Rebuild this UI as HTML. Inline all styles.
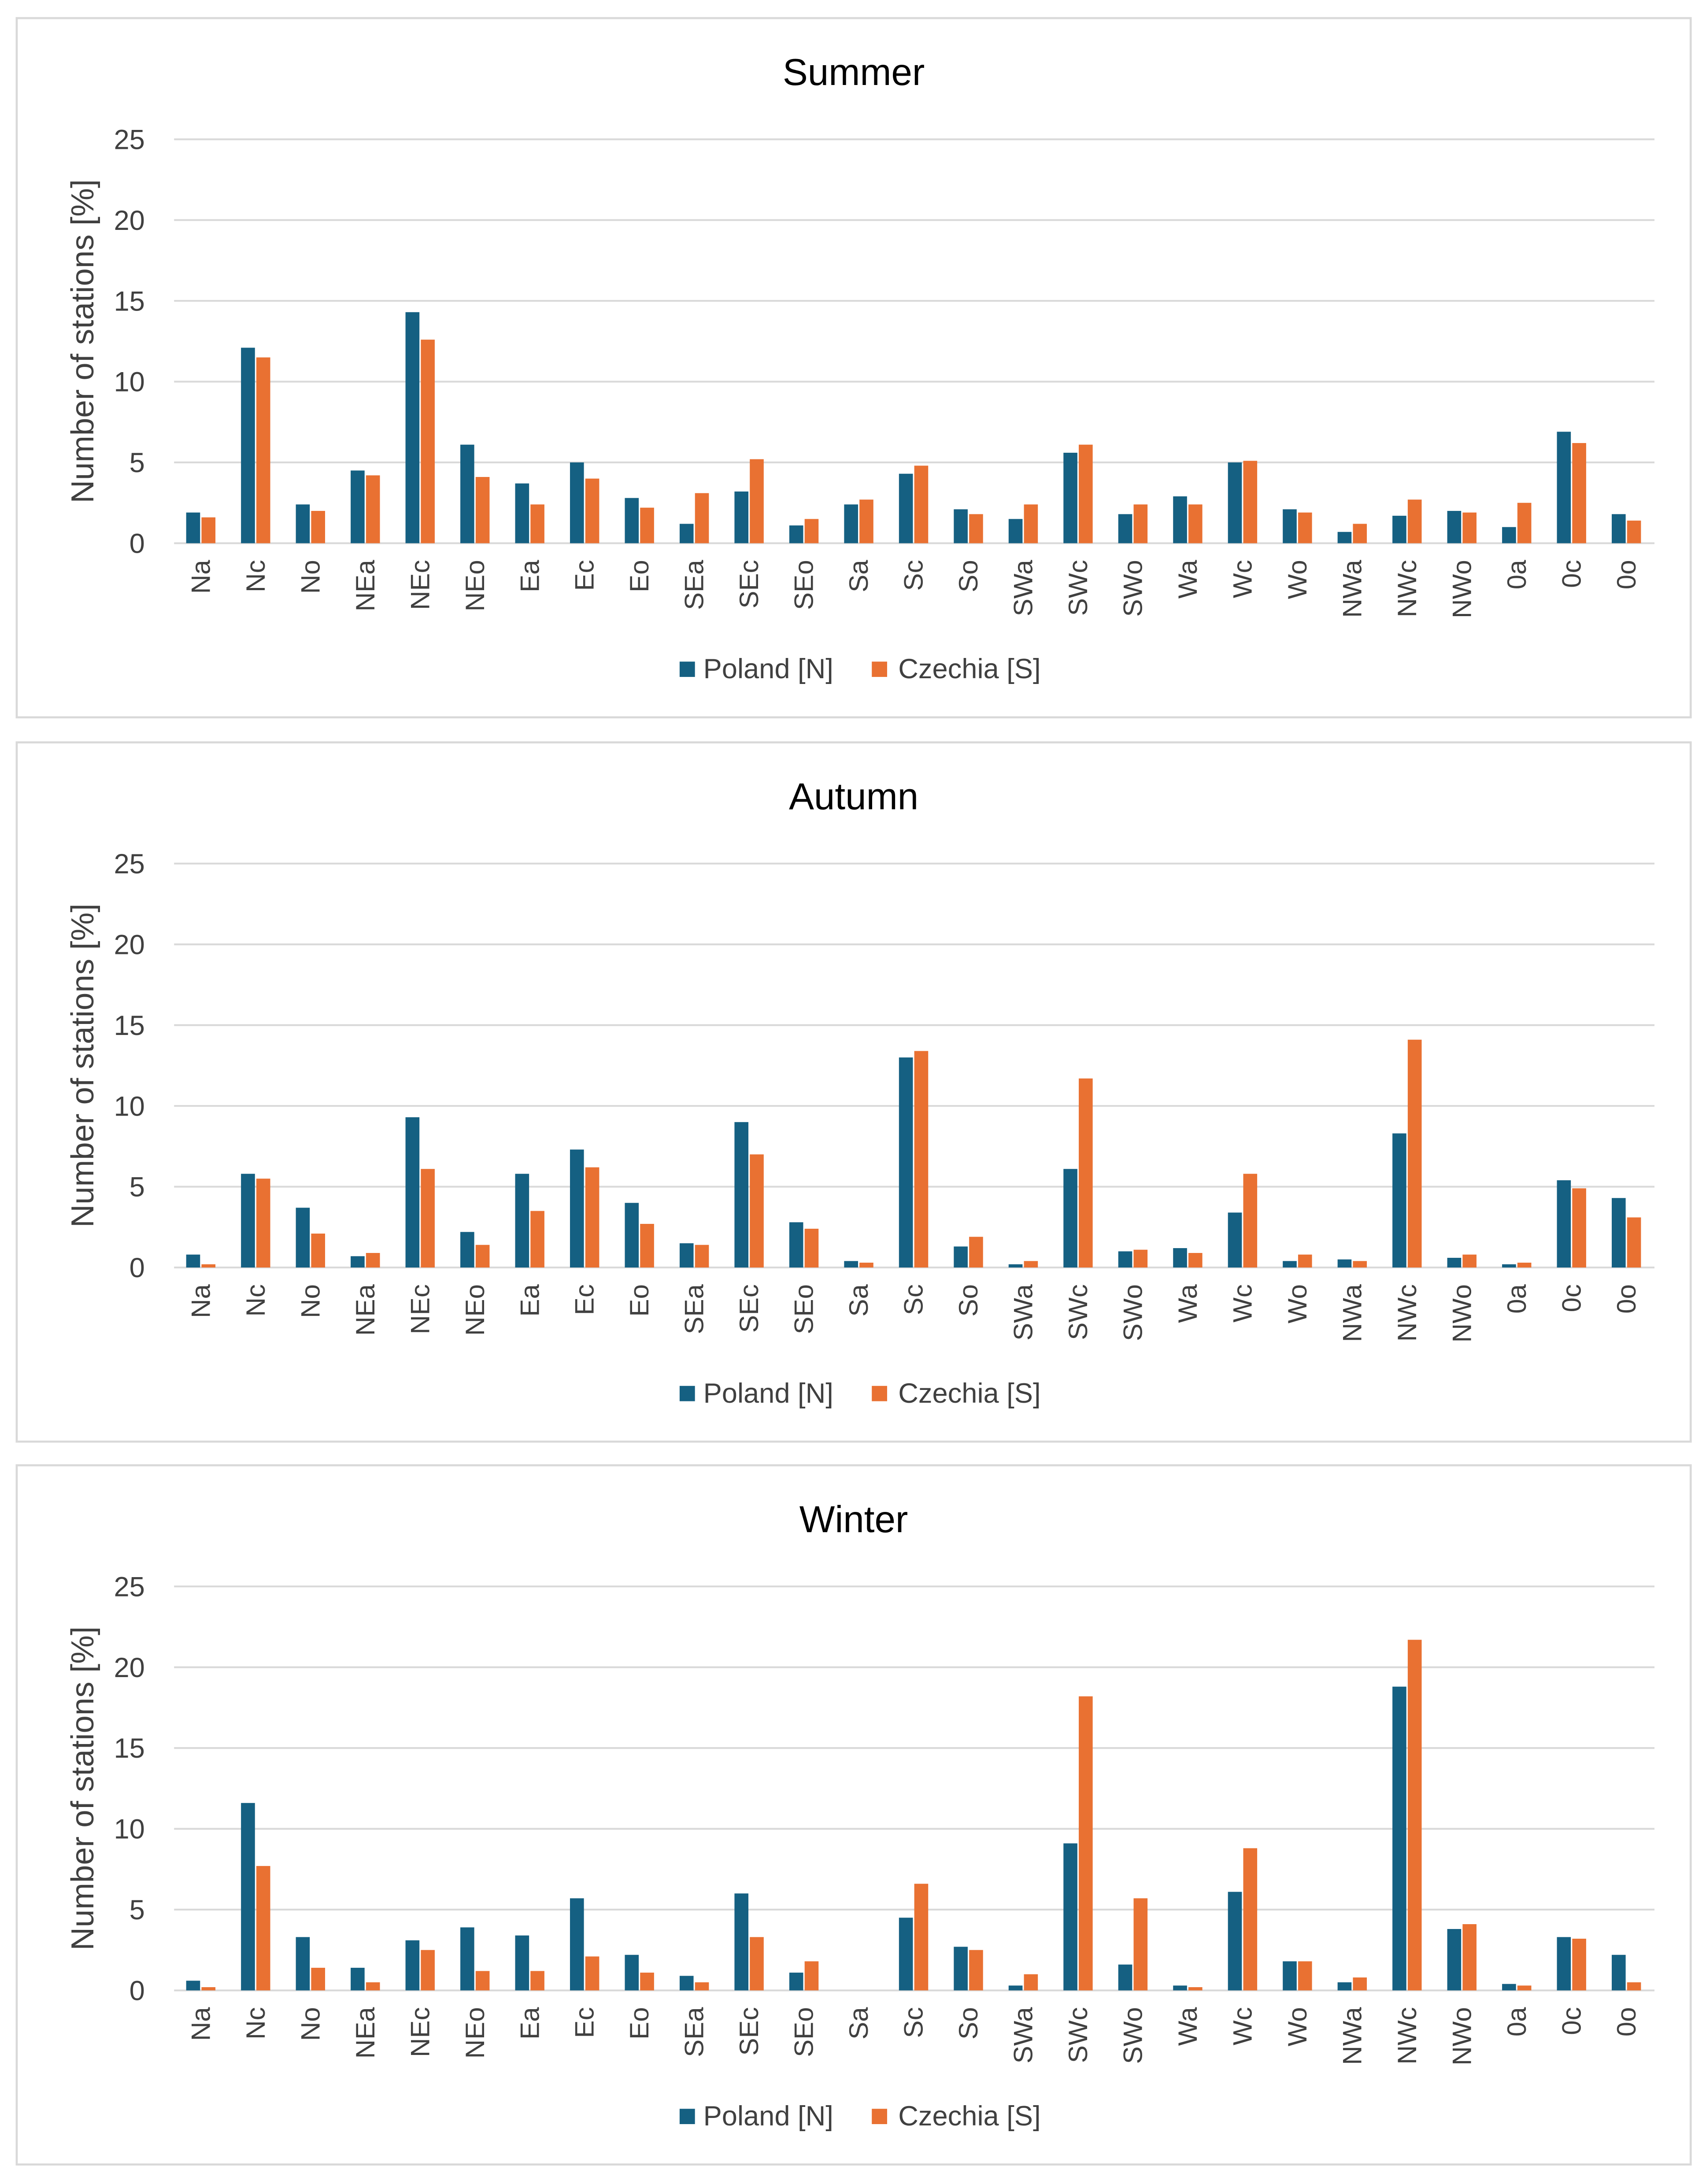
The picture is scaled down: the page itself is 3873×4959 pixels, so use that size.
<!DOCTYPE html>
<html><head><meta charset="utf-8"><style>
html,body{margin:0;padding:0;background:#fff}
svg{display:block}
text{font-family:"Liberation Sans",sans-serif}
</style></head><body>
<svg id="chart" width="3873" height="4959" viewBox="0 0 1225 1568" preserveAspectRatio="none" xmlns="http://www.w3.org/2000/svg"></svg>
<script>
const categories=["Na","Nc","No","NEa","NEc","NEo","Ea","Ec","Eo","SEa","SEc","SEo","Sa","Sc","So","SWa","SWc","SWo","Wa","Wc","Wo","NWa","NWc","NWo","0a","0c","0o"];
const seasonNames=["Summer","Autumn","Winter"];
const tickLabels=[0,5,10,15,20,25];
const summerPoland=[1.9,12.1,2.4,4.5,14.3,6.1,3.7,5.0,2.8,1.2,3.2,1.1,2.4,4.3,2.1,1.5,5.6,1.8,2.9,5.0,2.1,0.7,1.7,2.0,1.0,6.9,1.8];
const summerCzechia=[1.6,11.5,2.0,4.2,12.6,4.1,2.4,4.0,2.2,3.1,5.2,1.5,2.7,4.8,1.8,2.4,6.1,2.4,2.4,5.1,1.9,1.2,2.7,1.9,2.5,6.2,1.4];
const autumnPoland=[0.8,5.8,3.7,0.7,9.3,2.2,5.8,7.3,4.0,1.5,9.0,2.8,0.4,13.0,1.3,0.2,6.1,1.0,1.2,3.4,0.4,0.5,8.3,0.6,0.2,5.4,4.3];
const autumnCzechia=[0.2,5.5,2.1,0.9,6.1,1.4,3.5,6.2,2.7,1.4,7.0,2.4,0.3,13.4,1.9,0.4,11.7,1.1,0.9,5.8,0.8,0.4,14.1,0.8,0.3,4.9,3.1];
const winterPoland=[0.6,11.6,3.3,1.4,3.1,3.9,3.4,5.7,2.2,0.9,6.0,1.1,0,4.5,2.7,0.3,9.1,1.6,0.3,6.1,1.8,0.5,18.8,3.8,0.4,3.3,2.2];
const winterCzechia=[0.2,7.7,1.4,0.5,2.5,1.2,1.2,2.1,1.1,0.5,3.3,1.8,0,6.6,2.5,1.0,18.2,5.7,0.2,8.8,1.8,0.8,21.7,4.1,0.3,3.2,0.5];
const seriesPoland=[summerPoland,autumnPoland,winterPoland];
const seriesCzechia=[summerCzechia,autumnCzechia,winterCzechia];

const NS="http://www.w3.org/2000/svg";
const svg=document.getElementById('chart');
function mk(tag,attrs,parent,txt){const e=document.createElementNS(NS,tag);for(const k in attrs)e.setAttribute(k,attrs[k]);if(txt!==undefined)e.textContent=txt;(parent||svg).appendChild(e);return e;}
const panelTop=[13,533,1052];
const x0=125,x1=1188,yMax=25;
const band=(x1-x0)/categories.length;
seasonNames.forEach((name,p)=>{
  const top=panelTop[p];
  const g=mk('g',{});
  
  
  const box=mk('rect',{x:12,y:top,width:1202,height:502,fill:'#fff',stroke:'#d9d9d9','stroke-width':1.5},g);
  
  const t=mk('text',{x:613,y:top+48,'text-anchor':'middle','font-size':27,fill:'#000'},g,name);
  
  const yTop=top+87,yBot=top+377;
  const ys=v=>yBot-(v/yMax)*(yBot-yTop);
  tickLabels.forEach(v=>{
    const l=mk('line',{x1:x0,x2:x1,y1:ys(v),y2:ys(v),stroke:'#d9d9d9','stroke-width':1.3},g);
    
    const tl=mk('text',{x:104,y:ys(v)+7,'text-anchor':'end','font-size':20,fill:'#404040'},g,String(v));
    
  });
  const yt=mk('text',{transform:`translate(67,${(yTop+yBot)/2}) rotate(-90)`,'text-anchor':'middle','font-size':23,fill:'#404040'},g,'Number of stations [%]');
  
  categories.forEach((c,i)=>{
    const cx=x0+band*(i+0.5);
    const vp=seriesPoland[p][i],vc=seriesCzechia[p][i];
    const b1=mk('rect',{x:cx-11,y:ys(vp),width:10,height:yBot-ys(vp),fill:'#156082'},g);
    
    const b2=mk('rect',{x:cx,y:ys(vc),width:10,height:yBot-ys(vc),fill:'#e97132'},g);
    
    const lb=mk('text',{transform:`translate(${cx+6},${yBot+12}) rotate(-90)`,'text-anchor':'end','font-size':19,fill:'#404040'},g,c);
    
  });
  const ly=top+475;
  const s1=mk('rect',{x:488,y:ly-13,width:11,height:11,fill:'#156082'},g);
  
  const t1=mk('text',{x:505,y:ly-1,'font-size':20,fill:'#404040'},g,'Poland [N]');
  
  const s2=mk('rect',{x:626,y:ly-13,width:11,height:11,fill:'#e97132'},g);
  
  const t2=mk('text',{x:645,y:ly-1,'font-size':20,fill:'#404040'},g,'Czechia [S]');
  
});
</script>
</body></html>
